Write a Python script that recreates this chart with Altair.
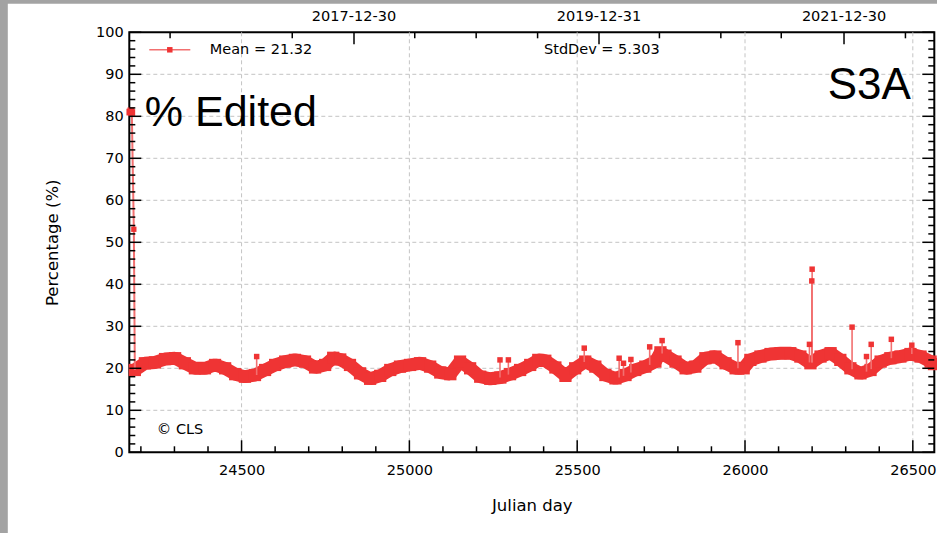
import altair as alt
import pandas as pd

# ---------------- data ----------------
# start of the record (first days after launch)
head_day = [24167, 24170, 24173, 24179, 24182]
head_val = [81.0, 81.3, 80.9, 53.1, 19.6]

# main daily band (smoothed centre of the daily values)
band_day = [24182, 24212, 24242, 24272, 24302, 24331, 24361, 24391, 24421, 24451,
            24481, 24510, 24540, 24570, 24600, 24630, 24659, 24689, 24719, 24749,
            24773, 24794, 24823, 24853, 24883, 24913, 24943, 24972, 25002, 25032,
            25062, 25092, 25122, 25151, 25181, 25211, 25241, 25271, 25300, 25330,
            25360, 25384, 25405, 25435, 25465, 25494, 25524, 25554, 25584, 25614,
            25644, 25673, 25703, 25733, 25748, 25763, 25793, 25823, 25852, 25882,
            25912, 25942, 25972, 25996, 26016, 26046, 26076, 26106, 26135, 26165,
            26195, 26225, 26255, 26284, 26314, 26344, 26374, 26404, 26433, 26463,
            26493, 26523, 26553, 26563]
band_val = [19.6, 21.2, 21.4, 22.2, 22.4, 21.2, 20.0, 20.0, 20.8, 20.0,
            18.6, 18.0, 18.4, 19.6, 20.8, 21.6, 22.0, 21.6, 20.2, 20.8,
            22.5, 22.1, 20.8, 18.8, 17.5, 18.2, 19.6, 20.4, 20.8, 21.2,
            20.4, 19.0, 18.6, 21.6, 20.0, 18.0, 17.5, 17.8, 18.6, 19.6,
            20.8, 22.0, 21.8, 20.2, 18.2, 20.0, 21.6, 20.4, 18.4, 17.6,
            18.4, 19.6, 20.4, 21.6, 23.8, 23.0, 21.6, 20.0, 20.4, 22.4,
            22.8, 21.2, 20.0, 20.0, 22.0, 22.8, 23.4, 23.6, 23.6, 22.8,
            21.2, 22.8, 23.6, 22.0, 20.0, 18.8, 19.6, 21.6, 22.4, 22.8,
            23.4, 22.8, 21.6, 21.0]

# isolated outliers above the band
spike_day = [24545, 25270, 25295, 25521, 25625, 25638, 25660, 25716, 25753, 25979,
             26192, 26199, 26200, 26319, 26362, 26376, 26436, 26497]
spike_val = [22.8, 22.0, 22.0, 24.8, 22.4, 21.2, 22.1, 25.1, 26.6, 26.1,
             25.7, 40.8, 43.6, 29.8, 22.8, 25.7, 26.9, 25.5]
spike_base = [18.4, 17.8, 18.5, 21.5, 17.8, 18.2, 19.0, 20.8, 23.5, 20.0,
              21.4, 21.4, 21.4, 19.8, 19.2, 19.8, 22.4, 23.4]

# axes
x_major = [24500, 25000, 25500, 26000, 26500]
x_minor = [d for d in range(24200, 26600, 100) if d % 500]
y_major = list(range(0, 101, 10))
y_minor = [v for v in range(2, 100, 2) if v % 10]
y_grid = list(range(10, 100, 10))
top_major = [24835, 25565, 26295]
top_labels = ["2017-12-30", "2019-12-31", "2021-12-30"]
top_minor = [24287, 24651, 25016, 25199, 25382, 25745, 25928, 26108, 26478]

legend_text = ["Mean = 21.32", "StdDev = 5.303"]

# ---------------- styling ----------------
W, H = 805, 420
RED = "#ef3434"
PALE = "#f27070"
FONT = "DejaVu Sans"
MAJ, MIN = 12, 6

xscale = alt.Scale(domain=[24165.5, 26564], nice=False, zero=False)
yscale = alt.Scale(domain=[0, 100], nice=False, zero=False)

X = alt.X("day:Q", scale=xscale, title="Julian day",
          axis=alt.Axis(values=x_major, format="d", domain=False, ticks=False, grid=False,
                        labelFont=FONT, labelFontSize=14.5, labelColor="black", labelPadding=11,
                        titleFont=FONT, titleFontSize=16.5, titleFontWeight="normal",
                        titleColor="black", titlePadding=21))
Y = alt.Y("pct:Q", scale=yscale, title="Percentage (%)",
          axis=alt.Axis(values=y_major, format="d", domain=False, ticks=False, grid=False,
                        labelFont=FONT, labelFontSize=14.5, labelColor="black", labelPadding=6,
                        titleFont=FONT, titleFontSize=16.5, titleFontWeight="normal",
                        titleColor="black", titlePadding=35))

head = pd.DataFrame({"day": head_day, "pct": head_val})
band = pd.DataFrame({"day": band_day, "pct": band_val})
spikes = pd.DataFrame({"day": spike_day, "pct": spike_val, "base": spike_base})

one = pd.DataFrame({"k": [0]})

# frame background strips
strip_left = alt.Chart(one).mark_rect(color="#a3a3a3").encode(
    x=alt.value(-129.3), x2=alt.value(-121.5), y=alt.value(-32.3), y2=alt.value(500.7))
strip_top = alt.Chart(one).mark_rect(color="#a3a3a3").encode(
    x=alt.value(-129.3), x2=alt.value(807.7), y=alt.value(-32.3), y2=alt.value(-28.5))

grid_y = alt.Chart(pd.DataFrame({"pct": y_grid})).mark_rule(
    color="#c4c4c4", strokeWidth=1, strokeDash=[4, 3]).encode(y=Y)
grid_x = alt.Chart(pd.DataFrame({"day": x_major})).mark_rule(
    color="#c4c4c4", strokeWidth=1, strokeDash=[4, 3]).encode(x=X)

# data marks
head_line = alt.Chart(head).mark_line(color=PALE, strokeWidth=2).encode(x=X, y=Y)
head_pts = alt.Chart(head.iloc[:3]).mark_square(color=RED, size=45, opacity=1).encode(x=X, y=Y)
head_mid = alt.Chart(head.iloc[3:4]).mark_square(color=RED, size=28, opacity=1).encode(x=X, y=Y)
spike_rule = alt.Chart(spikes).mark_rule(color=PALE, strokeWidth=1.6).encode(
    x=X, y=Y, y2="base:Q")
spike_pts = alt.Chart(spikes).mark_square(color=RED, size=30, opacity=1).encode(x=X, y=Y)
band_line = alt.Chart(band).mark_line(color=RED, strokeWidth=13, strokeJoin="bevel").encode(x=X, y=Y)
band_pts = alt.Chart(band).mark_square(color=RED, size=150, opacity=1).encode(x=X, y=Y)

# inward ticks on all four sides
tick = dict(color="black", strokeWidth=1.5)
xb_maj = alt.Chart(pd.DataFrame({"day": x_major})).mark_rule(**tick).encode(
    x=X, y=alt.value(H), y2=alt.value(H - MAJ))
xb_min = alt.Chart(pd.DataFrame({"day": x_minor})).mark_rule(**tick).encode(
    x=X, y=alt.value(H), y2=alt.value(H - MIN))
xt_maj = alt.Chart(pd.DataFrame({"day": top_major})).mark_rule(**tick).encode(
    x=X, y=alt.value(0), y2=alt.value(MAJ))
xt_min = alt.Chart(pd.DataFrame({"day": top_minor})).mark_rule(**tick).encode(
    x=X, y=alt.value(0), y2=alt.value(MIN))
yl_maj = alt.Chart(pd.DataFrame({"pct": y_major})).mark_rule(**tick).encode(
    y=Y, x=alt.value(0), x2=alt.value(MAJ))
yl_min = alt.Chart(pd.DataFrame({"pct": y_minor})).mark_rule(**tick).encode(
    y=Y, x=alt.value(0), x2=alt.value(MIN))
yr_maj = alt.Chart(pd.DataFrame({"pct": y_major})).mark_rule(**tick).encode(
    y=Y, x=alt.value(W), x2=alt.value(W - MAJ))
yr_min = alt.Chart(pd.DataFrame({"pct": y_minor})).mark_rule(**tick).encode(
    y=Y, x=alt.value(W), x2=alt.value(W - MIN))

top_text = alt.Chart(pd.DataFrame({"day": top_major, "lab": top_labels})).mark_text(
    font=FONT, fontSize=14.5, color="black", baseline="middle", align="center").encode(
    x=X, text="lab:N", y=alt.value(-15.5))

# legend and annotations
leg_line = alt.Chart(one).mark_rule(color=PALE, strokeWidth=1.5).encode(
    x=alt.value(20), x2=alt.value(61), y=alt.value(17.5))
leg_pt = alt.Chart(one).mark_square(color=RED, size=30, opacity=1).encode(
    x=alt.value(40.5), y=alt.value(17.5))
mean_txt = alt.Chart(one).mark_text(text=legend_text[0], font=FONT, fontSize=14.5,
                                    color="black", align="left", baseline="middle").encode(
    x=alt.value(80.5), y=alt.value(17.5))
std_txt = alt.Chart(one).mark_text(text=legend_text[1], font=FONT, fontSize=14.5,
                                   color="black", align="center", baseline="middle").encode(
    x=alt.value(472.5), y=alt.value(17.5))
sat_txt = alt.Chart(one).mark_text(text="S3A", font="Liberation Sans", fontSize=44,
                                   color="black", align="right", baseline="alphabetic").encode(
    x=alt.value(781.5), y=alt.value(66.5))
var_txt = alt.Chart(one).mark_text(text="% Edited", font="Liberation Sans", fontSize=43,
                                   color="black", align="left", baseline="alphabetic").encode(
    x=alt.value(15.5), y=alt.value(94))
cls_txt = alt.Chart(one).mark_text(text="© CLS", font=FONT, fontSize=14.5,
                                   color="black", align="left", baseline="middle").encode(
    x=alt.value(27.5), y=alt.value(397.5))

chart = alt.layer(
    grid_y, grid_x,
    band_line, band_pts, head_line, head_pts, head_mid, spike_rule, spike_pts,
    xb_maj, xb_min, xt_maj, xt_min, yl_maj, yl_min, yr_maj, yr_min,
    top_text, leg_line, leg_pt, mean_txt, std_txt, sat_txt, var_txt, cls_txt,
    strip_left, strip_top,
).properties(
    width=W, height=H,
    autosize=alt.AutoSizeParams(type="none"),
    padding={"left": 129.3, "top": 32.3, "right": 2.7, "bottom": 80.7},
    background="white",
).configure_view(stroke="black", strokeWidth=2)

chart.save("out.html", embed_options={"renderer": "svg", "actions": False})
